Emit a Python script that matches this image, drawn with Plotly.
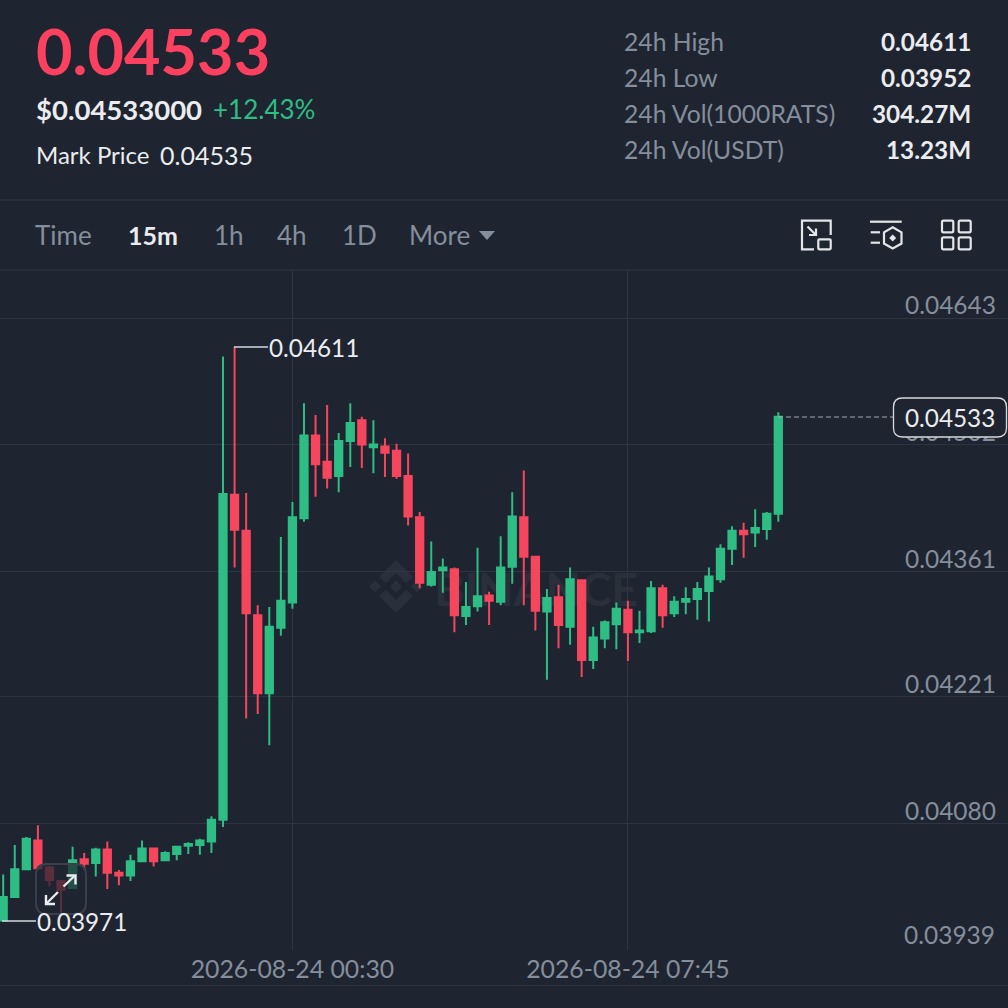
import pandas as pd
import plotly.graph_objects as go

# --- data ---
start_time = "2026-08-23 18:15"
opens = [.03972,.03998,.04029,.04061,.04031,.04016,.04008,.04040,.04036,.04051,.04025,.04022,.04038,.04052,.04039,.04046,.04055,.04056,.04060,.04084,
         .04446,.04406,.04312,.04225,.04298,.04326,.04420,.04512,.04483,.04467,.04506,.04529,.04499,.04500,.04495,.04467,.04421,.04346,.04362,.04363,
         .04311,.04322,.04334,.04327,.04366,.04421,.04377,.04316,.04332,.04299,.04351,.04262,.04286,.04302,.04318,.04293,.04294,.04342,.04314,.04327,
         .04330,.04339,.04352,.04386,.04406,.04404,.04408,.04425]
highs = [.04023,.04056,.04065,.04078,.04033,.04016,.04054,.04047,.04053,.04060,.04028,.04045,.04061,.04053,.04049,.04055,.04059,.04063,.04088,.04600,
         .04611,.04448,.04323,.04321,.04399,.04438,.04548,.04535,.04546,.04515,.04548,.04533,.04529,.04509,.04503,.04492,.04427,.04394,.04375,.04365,
         .04349,.04387,.04338,.04400,.04449,.04473,.04378,.04341,.04346,.04365,.04351,.04299,.04306,.04326,.04328,.04317,.04350,.04346,.04333,.04343,
         .04349,.04365,.04391,.04411,.04415,.04430,.04427,.04538]
lows = [.03971,.03998,.04029,.04028,.04010,.03978,.04008,.04028,.04021,.04007,.04011,.04016,.04038,.04032,.04038,.04039,.04046,.04045,.04047,.04076,
        .04365,.04197,.04202,.04167,.04289,.04319,.04416,.04444,.04453,.04449,.04477,.04476,.04470,.04466,.04464,.04412,.04342,.04344,.04337,.04293,
        .04301,.04316,.04301,.04323,.04347,.04323,.04295,.04240,.04275,.04279,.04243,.04252,.04275,.04274,.04261,.04281,.04292,.04298,.04310,.04313,
        .04307,.04305,.04348,.04368,.04376,.04388,.04396,.04416]
closes = [.03998,.04029,.04063,.04030,.04017,.04006,.04039,.04035,.04051,.04025,.04022,.04038,.04052,.04038,.04047,.04054,.04057,.04061,.04084,.04447,
          .04407,.04314,.04225,.04299,.04328,.04421,.04512,.04480,.04465,.04506,.04526,.04502,.04502,.04493,.04467,.04422,.04348,.04360,.04365,.04312,
          .04321,.04333,.04328,.04365,.04422,.04377,.04317,.04331,.04301,.04352,.04262,.04287,.04304,.04319,.04293,.04295,.04342,.04312,.04327,.04330,
          .04341,.04355,.04386,.04406,.04402,.04409,.04425,.04533]
price_ticks = [.03939,.04080,.04221,.04361,.04502,.04643]
time_ticks = ["2026-08-24 00:30","2026-08-24 07:45"]
stats_labels = ["24h High","24h Low","24h Vol(1000RATS)","24h Vol(USDT)"]
stats_values = ["0.04611","0.03952","304.27M","13.23M"]
tabs = ["Time","15m","1h","4h","1D","More"]

# --- style ---
BG = "#1f2530"
GRID = "#2f3540"
GREEN = "#2ebd85"
RED = "#f6465d"
GRAY = "#848e9c"
WHITE = "#eaecef"
FONT = "Lato"
S = 1008.0

def px(x): return x / S
def py(y): return (S - y) / S

times = pd.date_range(start_time, periods=len(opens), freq="15min")

fig = go.Figure(go.Candlestick(
    x=times, open=opens, high=highs, low=lows, close=closes,
    increasing=dict(line=dict(color=GREEN, width=2), fillcolor=GREEN),
    decreasing=dict(line=dict(color=RED, width=2), fillcolor=RED),
    whiskerwidth=0, hoverinfo="skip", showlegend=False,
))

ann = []
def txt(x, y, s, size, color, anchor="left", weight=400):
    ann.append(dict(x=px(x), y=py(y), xref="paper", yref="paper", text=s, showarrow=False,
                    xanchor=anchor, yanchor="middle", borderpad=0,
                    font=dict(family=FONT, size=size, color=color, weight=weight)))

txt(35, 50, "0.04533", 63, "#fb4060", weight=700)
txt(35, 109.5, "$0.04533000", 27.5, WHITE, weight=700)
txt(212, 109.5, "+12.43%", 26, GREEN)
txt(35, 154.5, "Mark Price", 24, WHITE)
txt(159, 154.5, "0.04535", 25, WHITE)
for i, (a, b) in enumerate(zip(stats_labels, stats_values)):
    txt(623, 41.5 + 36 * i, a, 24.7, GRAY)
    txt(972, 41.5 + 36 * i, b, 24.3, WHITE, "right", 700)
for t, x in zip(tabs, [34, 127, 213, 276, 341, 408]):
    active = t == "15m"
    txt(x, 235.5, t, 26 if not active else 25, WHITE if active else GRAY, weight=700 if active else 400)
txt(267.5, 347, "0.04611", 24.3, WHITE)
txt(35.5, 921, "0.03971", 24.3, WHITE)
# the lowest price label sits at the axis edge, where the axis itself would clip it
txt(996, 934.5, f"{price_ticks[0]:.5f}", 24.5, GRAY, "right")

shapes = []
def line(x0, y0, x1, y1, color=GRID, w=1, dash=None, layer="above"):
    shapes.append(dict(type="line", xref="paper", yref="paper", x0=px(x0), y0=py(y0), x1=px(x1), y1=py(y1),
                       line=dict(color=color, width=w, dash=dash or "solid"), layer=layer))
def path(points, color=None, w=0, fill=None, close=False, layer="above"):
    d = "M" + " L".join(f"{px(x):.5f},{py(y):.5f}" for x, y in points) + (" Z" if close else "")
    shapes.append(dict(type="path", xref="paper", yref="paper", path=d, layer=layer,
                       line=dict(color=color or "rgba(0,0,0,0)", width=w), fillcolor=fill or "rgba(0,0,0,0)"))
def rrect(x0, y0, x1, y1, r, color, w, fill=None, layer="above"):
    P = lambda x, y: f"{px(x):.5f},{py(y):.5f}"
    d = (f"M{P(x0+r,y0)} L{P(x1-r,y0)} Q{P(x1,y0)} {P(x1,y0+r)} L{P(x1,y1-r)} Q{P(x1,y1)} {P(x1-r,y1)} "
         f"L{P(x0+r,y1)} Q{P(x0,y1)} {P(x0,y1-r)} L{P(x0,y0+r)} Q{P(x0,y0)} {P(x0+r,y0)} Z")
    shapes.append(dict(type="path", xref="paper", yref="paper", path=d, layer=layer,
                       line=dict(color=color, width=w), fillcolor=fill or "rgba(0,0,0,0)"))

# panel separators
line(0, 200, 1008, 200)
line(0, 270, 1008, 270)
line(0, 985.5, 1008, 985.5)

# watermark (behind candles)
WM = "#2a303b"
path([(396,560),(413,577),(406,583),(396,573),(386,583),(379,577)], fill=WM, close=True, layer="below")
path([(396,613),(413,596),(406,590),(396,600),(386,590),(379,596)], fill=WM, close=True, layer="below")
for cx in (375, 396, 417):
    path([(cx-6,586.5),(cx,580.5),(cx+6,586.5),(cx,592.5)], fill=WM, close=True, layer="below")
shapes.append(dict(type="rect", xref="paper", yref="paper", x0=px(430), x1=px(642), y0=py(610), y1=py(565),
                   layer="below", line=dict(width=0), fillcolor="rgba(0,0,0,0)",
                   label=dict(text="BINANCE", font=dict(family=FONT, size=46, color=WM, weight=700),
                              textposition="middle center")))

# extreme markers + last price
line(234, 347, 268, 347, "#d5d8dc", 1.5)
line(2, 921, 36, 921, "#d5d8dc", 1.5)
line(778, 417, 893, 417, "#a5abb3", 1.2, "5px,3px")
rrect(893.5, 398, 1006.5, 437, 9, "#d8dadd", 1.3, BG)
txt(950, 418, "0.04533", 24.3, WHITE, "center")

# More triangle
path([(479,231),(495,231),(487,240)], fill=GRAY, close=True)

# icon 1
IC = "#e3e5e8"
path([(814,249.3),(802,249.3),(802,220.7),(830.7,220.7),(830.7,235)], IC, 2.2)
rrect(818.3,239.3,830.7,249.3,1,IC,2.2)
path([(807.5,226.5),(816,235)], IC, 2.2)
path([(816,228.5),(816,235),(809,235)], IC, 2.2)
# icon 2
line(870,221.7,901.7,221.7,IC,2.2)
line(870.7,232.3,880,232.3,IC,2.2)
line(870.7,242.7,880,242.7,IC,2.2)
path([(892.7,227.3),(901.5,232.3),(901.5,243.5),(892.7,248.5),(884,243.5),(884,232.3)], IC, 2.2, close=True)
path([(892.7,234.5),(896.2,238),(892.7,241.5),(889.2,238)], fill=IC, close=True)
# icon 3
for x0, x1 in ((942,953.3),(958.7,970.7)):
    for y0, y1 in ((220.7,232.3),(237.3,249.3)):
        rrect(x0,y0,x1,y1,1.5,IC,2.2)

# floating expand button
rrect(36,864,86,914,11,"#3a404b",2,"rgba(31,37,48,0.72)")
path([(63.5,886.5),(75,875.5)], WHITE, 2.4)
path([(66.5,875.5),(75.5,875.5),(75.5,884.5)], WHITE, 2.4)
path([(58,892),(46,904)], WHITE, 2.4)
path([(46,895),(46,904),(55,904)], WHITE, 2.4)

# axis geometry
p_per_px = (price_ticks[-1] - price_ticks[0]) / (950 - 318)
y_top = price_ticks[0] + (950 - 270) * p_per_px
spacing = 335.5 / 29
x0_time = times[0] + pd.Timedelta(minutes=(0 - 3.2) / spacing * 15)
x1_time = times[0] + pd.Timedelta(minutes=(1008 - 3.2) / spacing * 15)

fig.update_layout(
    width=1008, height=1008, autosize=False,
    margin=dict(l=0, r=0, t=0, b=0),
    paper_bgcolor=BG, plot_bgcolor=BG, boxgap=0.37, boxgroupgap=0,
    font=dict(family=FONT, color=GRAY, size=23),
    annotations=ann, shapes=shapes, showlegend=False, hovermode=False,
    xaxis=dict(domain=[0, 1], range=[x0_time, x1_time], rangeslider=dict(visible=False),
               tickmode="array", tickvals=time_ticks, ticktext=time_ticks,
               showgrid=True, gridcolor=GRID, gridwidth=1, zeroline=False, showline=False,
               ticks="", tickfont=dict(family=FONT, size=24.8, color=GRAY), ticklabelstandoff=2),
    yaxis=dict(domain=[py(950), py(270)], range=[price_ticks[0], y_top], side="right",
               tickmode="array", tickvals=price_ticks, ticktext=[f"{v:.5f}" for v in price_ticks],
               ticklabelposition="inside top", ticklabelstandoff=9, ticklabelshift=5,
               showgrid=True, gridcolor=GRID, gridwidth=1,
               zeroline=False, showline=False, ticks="", tickfont=dict(family=FONT, size=24.5, color=GRAY)),
)

fig.write_html("out.html", config=dict(displayModeBar=False),
               post_script="document.body.style.margin='0';document.documentElement.style.overflow='hidden';")
